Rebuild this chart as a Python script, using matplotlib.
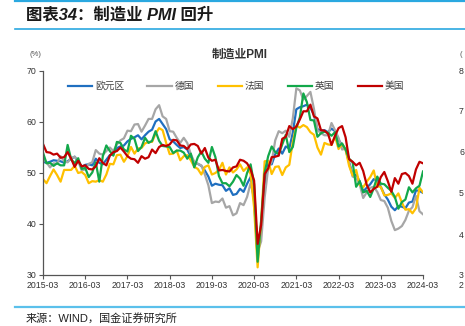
import matplotlib
matplotlib.use("Agg")
import matplotlib.pyplot as plt
from matplotlib.lines import Line2D

plt.rcParams['font.family'] = ['Liberation Sans', 'Noto Sans CJK SC', 'DejaVu Sans']

# ---- data (monthly, 2015-03 .. 2024-03) ----
xtick_labels = ['2015-03', '2016-03', '2017-03', '2018-03', '2019-03',
                '2020-03', '2021-03', '2022-03', '2023-03', '2024-03']

euro = [52.2, 52.0, 52.2, 52.5, 52.4, 52.3, 52.0, 52.3, 52.8, 53.2,
        52.3, 51.2, 51.6, 51.7, 51.5, 52.8, 52.0, 51.7, 52.6, 53.5, 53.7, 54.9,
        55.2, 55.4, 56.2, 56.7, 57.0, 57.4, 56.6, 57.4, 58.1, 58.5, 60.1, 60.6,
        59.6, 58.6, 56.6, 56.2, 55.5, 54.9, 55.1, 54.6, 53.2, 52.0, 51.8, 51.4,
        50.5, 49.3, 47.5, 47.9, 47.7, 47.6, 46.5, 47.0, 45.7, 45.9, 46.9, 46.3,
        47.9, 49.2, 44.5, 33.4, 39.4, 47.4, 51.8, 51.7, 53.7, 54.8, 53.8, 55.2,
        54.8, 57.9, 62.5, 62.9, 63.1, 63.4, 62.8, 61.4, 58.6, 58.3, 58.4, 58.0,
        58.7, 58.2, 56.5, 55.5, 54.6, 52.1, 49.8, 49.6, 48.4, 46.4, 47.1, 47.8,
        48.8, 48.5, 47.3, 45.8, 44.8, 43.4, 42.7, 43.5, 43.4, 43.1, 44.2, 44.4,
        46.6, 46.5, 46.1]

germany = [52.8, 52.1, 51.1, 51.9, 51.8, 53.3, 52.3, 52.1, 52.9, 53.2,
           52.3, 50.5, 50.7, 51.8, 52.1, 54.5, 53.8, 53.6, 54.3, 55.0, 54.3, 55.6,
           56.4, 56.8, 58.3, 58.2, 59.5, 59.6, 58.1, 59.3, 60.6, 60.6, 62.5, 63.3,
           61.1, 60.6, 58.2, 58.1, 56.9, 55.9, 56.9, 55.9, 53.7, 52.2, 51.8, 51.5,
           49.7, 47.6, 44.1, 44.4, 44.3, 45.0, 43.2, 43.5, 41.7, 42.1, 44.1, 43.7,
           45.3, 48.0, 45.4, 34.5, 36.6, 45.2, 51.0, 52.2, 56.4, 58.2, 57.8, 58.3,
           57.1, 60.7, 66.6, 66.2, 64.4, 65.1, 65.9, 62.6, 58.4, 57.8, 57.4, 57.4,
           59.8, 58.4, 56.9, 54.6, 54.8, 52.0, 49.3, 49.1, 47.8, 45.1, 46.2, 47.1,
           47.3, 46.3, 44.7, 44.5, 43.2, 40.6, 38.8, 39.1, 39.6, 40.8, 42.6, 43.3,
           45.5, 42.5, 41.9]

france = [48.8, 48.0, 49.4, 50.7, 49.6, 48.3, 50.6, 50.6, 50.6, 51.4,
          50.0, 50.2, 49.6, 48.0, 48.4, 48.3, 48.6, 48.3, 49.7, 51.8, 51.7, 53.5,
          53.6, 52.2, 53.3, 55.1, 53.8, 54.8, 54.9, 55.8, 56.1, 56.1, 57.7, 58.8,
          58.4, 55.9, 53.7, 53.8, 54.4, 52.5, 53.3, 53.5, 52.5, 51.2, 50.8, 49.7,
          51.2, 51.5, 49.7, 50.0, 50.6, 52.0, 49.7, 51.1, 50.1, 50.7, 51.7, 50.4,
          51.1, 49.8, 43.2, 31.5, 40.6, 52.3, 52.4, 49.8, 51.2, 51.3, 49.6, 51.1,
          51.6, 56.1, 59.3, 58.9, 59.4, 59.0, 58.0, 57.5, 55.0, 53.6, 55.9, 55.6,
          55.5, 57.2, 54.7, 55.7, 54.6, 51.4, 49.5, 50.6, 47.7, 47.2, 48.3, 49.2,
          50.5, 47.4, 47.3, 45.6, 45.7, 46.0, 45.1, 46.0, 44.2, 42.8, 42.9, 42.1,
          43.1, 47.1, 46.2]

uk = [54.0, 51.9, 52.0, 51.4, 51.9, 51.5, 51.5, 55.5, 52.7, 51.9,
      52.9, 50.8, 51.0, 49.2, 50.1, 52.1, 48.3, 53.3, 55.4, 54.3, 53.4, 56.1,
      55.9, 54.6, 54.2, 57.3, 56.7, 54.3, 55.1, 56.9, 55.9, 56.3, 58.2, 56.3,
      55.3, 55.2, 55.1, 53.9, 54.4, 54.4, 54.0, 52.8, 53.8, 51.1, 53.1, 54.2,
      52.8, 52.0, 55.1, 53.1, 49.4, 48.0, 48.0, 47.4, 48.3, 49.6, 48.9, 47.5,
      50.0, 51.7, 47.8, 32.6, 40.7, 50.1, 53.3, 55.2, 54.1, 53.7, 55.6, 57.5,
      54.1, 55.1, 58.9, 60.9, 65.6, 63.9, 60.4, 60.3, 57.1, 57.8, 58.1, 57.9,
      57.3, 58.0, 55.2, 55.8, 54.6, 52.8, 52.1, 47.3, 48.4, 46.2, 46.5, 45.3,
      47.0, 49.3, 47.9, 47.8, 47.1, 46.5, 45.3, 43.0, 44.3, 44.8, 47.2, 46.2,
      47.0, 47.5, 50.3]

us = [55.7, 54.1, 54.0, 53.6, 53.8, 53.0, 53.1, 54.1, 52.8, 51.2,
      52.4, 51.3, 51.5, 50.8, 50.7, 51.3, 52.9, 52.0, 51.5, 53.4, 54.1, 54.3,
      55.0, 54.2, 53.3, 52.8, 52.7, 52.0, 53.3, 52.8, 53.1, 54.6, 53.9, 55.1,
      55.5, 55.3, 55.6, 56.5, 56.4, 55.4, 55.3, 54.7, 55.6, 55.7, 55.3, 53.8,
      54.9, 53.0, 52.4, 52.6, 50.5, 50.6, 50.4, 50.3, 51.1, 51.3, 52.6, 52.4,
      51.9, 50.7, 48.5, 36.1, 39.8, 49.8, 50.9, 53.1, 53.2, 53.4, 56.7, 57.1,
      59.2, 58.6, 59.1, 60.5, 62.1, 62.1, 63.4, 61.1, 60.7, 58.4, 58.3, 57.7,
      55.5, 57.3, 58.8, 59.2, 57.0, 52.7, 52.2, 51.5, 52.0, 50.4, 47.7, 46.2,
      46.9, 47.3, 49.2, 50.2, 48.4, 46.3, 49.0, 47.9, 49.8, 50.0, 49.4, 47.9,
      50.7, 52.2, 51.9]

series_names = ['欧元区', '德国', '法国', '英国', '美国']
series_vals = [euro, germany, france, uk, us]
colors = ['#1f6fc0', '#a6a6a6', '#ffc000', '#12a84a', '#c00000']

right_labels = ['8', '7', '6', '5', '4', '3']

# ---- figure ----
W, H = 465, 326
fig = plt.figure(figsize=(W / 100, H / 100), dpi=100)

def fx(px):
    return px / W

def fy(py):
    return 1 - py / H

ax = fig.add_axes([fx(43), fy(275), fx(423) - fx(43), fy(71) - fy(275)])

x = list(range(len(euro)))
handles = []
for name, vals, c in zip(series_names, series_vals, colors):
    ln, = ax.plot(x, vals, color=c, lw=1.6, solid_joinstyle='round', label=name)
    handles.append(ln)

ax.set_xlim(0, len(euro) - 1)
ax.set_ylim(30, 70)
ax.set_yticks([30, 40, 50, 60, 70])
ax.set_xticks(list(range(0, len(euro), 12)))
ax.set_xticklabels(xtick_labels)
for s in ['top', 'right']:
    ax.spines[s].set_visible(False)
for s in ['left', 'bottom']:
    ax.spines[s].set_color('#555555')
    ax.spines[s].set_linewidth(0.9)
ax.spines['bottom'].set_bounds(0, len(euro) - 1)
ax.tick_params(axis='both', direction='out', length=3, width=0.8,
               color='#555555', labelsize=6.3, labelcolor='#333333', pad=1.5)
ax.margins(0)

# legend
fig.legend(handles=handles, labels=series_names, ncol=5, loc='center',
           bbox_to_anchor=(fx(236), fy(86)), frameon=False,
           fontsize=7, handlelength=2.5, handletextpad=0.3, columnspacing=2.4,
           labelcolor='#404040')

# chart title and unit
fig.text(fx(240), fy(55), '制造业PMI', ha='center', va='center',
         fontsize=8.5, fontweight='bold', color='#333333')
fig.text(fx(35), fy(55), '(%)', ha='center', va='center',
         fontsize=5.5, color='#555555')

# header
fig.add_artist(Line2D([fx(15), 1], [fy(1), fy(1)], color='#2aa8e0', lw=1.6))
fig.add_artist(Line2D([fx(15), 1], [fy(29), fy(29)], color='#2aa8e0', lw=1.2))
fig.text(fx(26), fy(15), '图表34：制造业 PMI 回升', ha='left', va='center',
         fontsize=11.8, fontweight='bold', color='#1a1a1a', style='italic')

# footer
fig.add_artist(Line2D([fx(15), 1], [fy(307), fy(307)], color='#5bc0eb', lw=1.6))
fig.text(fx(26), fy(313), '来源：WIND，国金证券研究所', ha='left', va='top',
         fontsize=8, color='#222222')

# partial labels of the neighbouring chart at the right edge
fig.text(fx(459), fy(55), '(', ha='left', va='center', fontsize=5.5, color='#555555')
for i, lab in enumerate(right_labels):
    fig.text(fx(459), fy(71 + 41 * i), lab, ha='left', va='center',
             fontsize=6.3, color='#333333')
fig.text(fx(459), fy(286), '2', ha='left', va='center', fontsize=6.3, color='#333333')

fig.savefig('out.png', dpi=100)
